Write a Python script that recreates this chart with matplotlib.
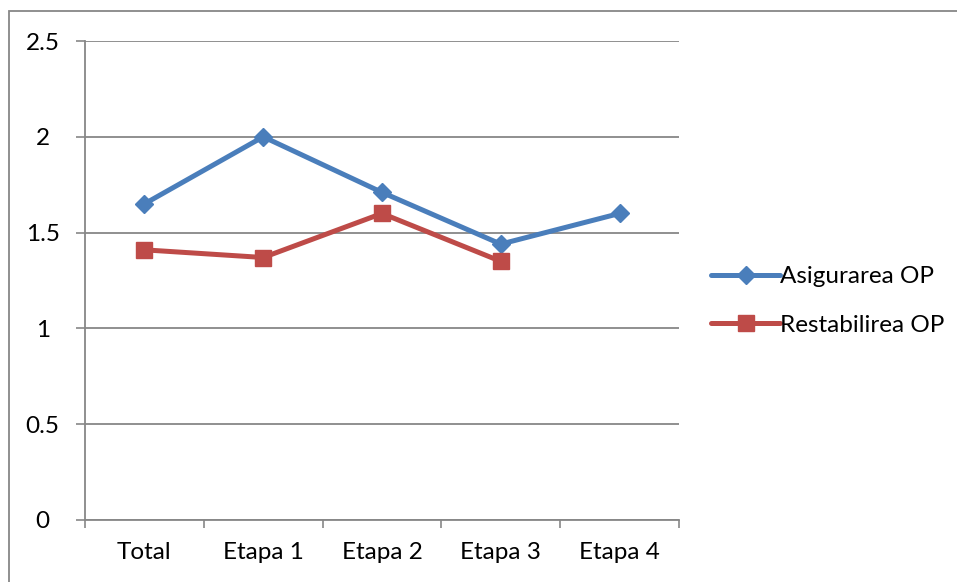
import matplotlib
matplotlib.use("Agg")
from matplotlib import pyplot as plt
from matplotlib.patches import Rectangle

categories = ["Total", "Etapa 1", "Etapa 2", "Etapa 3", "Etapa 4"]
asigurarea = [1.65, 2.00, 1.71, 1.44, 1.60]
restabilirea = [1.41, 1.37, 1.60, 1.35]
yticks = [0, 0.5, 1, 1.5, 2, 2.5]

plt.rcParams['font.family'] = ['Lato', 'DejaVu Sans']
grey = "#878787"
fs = 17.5

fig = plt.figure(figsize=(9.57, 5.82), dpi=100)
ax = fig.add_axes([85 / 957, 1 - 520 / 582, (679 - 85) / 957, (520 - 41) / 582])

x = list(range(len(categories)))
ax.plot(x, asigurarea, color="#4A7EBB", lw=3.6, marker="D", markersize=9.5,
        label="Asigurarea OP", solid_joinstyle="round", solid_capstyle="round")
ax.plot(x[:len(restabilirea)], restabilirea, color="#BE4B48", lw=3.6, marker="s",
        markersize=12, label="Restabilirea OP", solid_joinstyle="round",
        solid_capstyle="round")

ax.set_xlim(-0.5, len(categories) - 0.5)
ax.set_ylim(0, 2.5)
ax.set_yticks(yticks)
ax.set_yticklabels([f"{v:g}" for v in yticks], fontsize=fs)
for lbl in ax.get_yticklabels():
    lbl.set_horizontalalignment("center")

# category labels in the middle, tick marks on the boundaries
ax.set_xticks(x)
ax.set_xticklabels(categories, fontsize=fs)
ax.set_xticks([i - 0.5 for i in range(len(categories) + 1)], minor=True)
ax.tick_params(axis="x", which="major", length=0, pad=16)
ax.tick_params(axis="x", which="minor", length=6, width=1.2, color=grey, direction="out")
ax.tick_params(axis="y", length=6.5, width=1.2, color=grey, pad=24)

ax.yaxis.grid(True, color=grey, lw=1.3)
ax.set_axisbelow(True)
for side in ["top", "right"]:
    ax.spines[side].set_visible(False)
for side in ["left", "bottom"]:
    ax.spines[side].set_color(grey)
    ax.spines[side].set_linewidth(1.3)

leg = fig.legend(loc="center left", bbox_to_anchor=(711 / 957, 1 - 301 / 582),
                 frameon=False, fontsize=fs, handlelength=2.85, handletextpad=0.0,
                 labelspacing=1.15, borderaxespad=0, borderpad=0)

# chart frame
fig.patches.append(Rectangle((9 / 957, -0.1), 1.1, 1.1 - 11 / 582,
                             transform=fig.transFigure, fill=False,
                             edgecolor=grey, lw=1.3))

fig.savefig("out.png", dpi=100)
